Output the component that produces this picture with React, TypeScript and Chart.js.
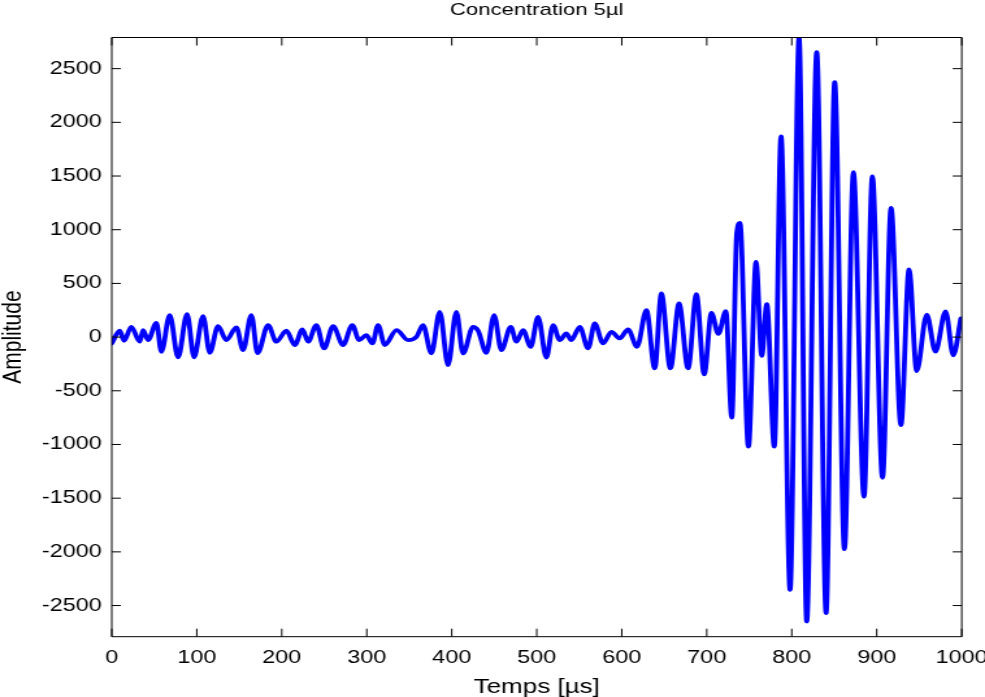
import React, { useEffect, useRef } from "react";
import { Chart, registerables } from "chart.js";

Chart.register(...registerables);

const titleText = "Concentration 5µl";
const xLabel = "Temps [µs]";
const yLabel = "Amplitude";

// time of each sample point (µs)
const timeUs = [
  0, 9.4, 14.5, 23, 32.9, 36.8, 42.7, 52.5, 58.4, 68.2, 78, 88.6, 96.8, 107.4, 115.3, 125,
  134.8, 146.6, 154.5, 164.2, 171.5, 183.9, 193.6, 205.4, 215.3, 224.3, 231, 240.7, 249.8,
  260.4, 272.1, 283, 291, 299.5, 306.6, 313.3, 321.2, 335, 348.6, 358.4, 366.2, 376, 385.9,
  395.6, 405.4, 413.3, 425, 431, 440.7, 449.8, 458.4, 469.4, 476, 483.9, 492.9, 501.5, 511.3,
  519.2, 527, 534.8, 540.7, 550.6, 560.4, 568.2, 578, 587.8, 597.6, 607.4, 618, 629, 638.8,
  646.6, 657.2, 667.4, 678, 687.8, 697, 705.5, 713.6, 722.5, 729.4, 735.3, 739, 749, 758,
  764.7, 770.6, 779.5, 787.4, 798, 808.6, 817.6, 829.4, 840.4, 850.5, 862, 872.5, 885, 894.8,
  906.8, 916.8, 928.4, 938, 947, 958.8, 969, 981, 990, 999,
];

// amplitude at each sample point
const amplitude = [
  -59, 59, -34, 96, -43, 65, -28, 133, -137, 205, -189, 214, -189, 195, -146, 102,
  -28, 90, -121, 205, -150, 112, -43, 59, -74, 71, -43, 112, -105,
  102, -74, 112, -28, 19, -59, 112, -74, 65, -28, 3, 112, -152, 235,
  -260, 235, -152, 96, 60, -146, 205, -121, 96, -43, 65, -90, 189, -190,
  112, -28, 34, -28, 96, -105, 127, -59, 49, -12, 71, -90, 251, -291,
  406, -291, 313, -291, 400, -347, 226, 30, 242, -750, 965, 1063, -1020, 700,
  -174, 307, -1020, 1870, -2353, 2788, -2648, 2654, -2570, 2375, -1975, 1535, -1486, 1497,
  -1310, 1203, -819, 630, -317, 210, -135, 240, -170, 175,
];

const xTicks = [0, 100, 200, 300, 400, 500, 600, 700, 800, 900, 1000];
const yTicks = [-2500, -2000, -1500, -1000, -500, 0, 500, 1000, 1500, 2000, 2500];
const xRange = [0, 1000];
const yRange = [-2790, 2790];

const OUT_W = 985;
const OUT_H = 697;
const IN_W = 758; // drawn narrower then stretched horizontally, like the reference
const FONT = '"Liberation Sans", Arial, Helvetica, sans-serif';

export default function App() {
  const ref = useRef<HTMLCanvasElement>(null);

  useEffect(() => {
    const canvas = ref.current;
    if (!canvas) return;

    const framePlugin = {
      id: "matlabFrame",
      afterDraw(chart: any) {
        const { ctx, chartArea: a, scales } = chart;
        const xs = scales.x;
        const ys = scales.y;
        ctx.save();
        ctx.strokeStyle = "#000";
        ctx.lineWidth = 1;
        ctx.beginPath();
        ctx.rect(a.left, a.top, a.right - a.left, a.bottom - a.top);
        ctx.stroke();
        ctx.beginPath();
        xs.ticks.forEach((t: any) => {
          const px = xs.getPixelForValue(t.value);
          ctx.moveTo(px, a.bottom);
          ctx.lineTo(px, a.bottom - 8);
          ctx.moveTo(px, a.top);
          ctx.lineTo(px, a.top + 8);
        });
        ys.ticks.forEach((t: any) => {
          const py = ys.getPixelForValue(t.value);
          ctx.moveTo(a.left, py);
          ctx.lineTo(a.left + 7, py);
          ctx.moveTo(a.right, py);
          ctx.lineTo(a.right - 7, py);
        });
        ctx.stroke();
        ctx.restore();
      },
    };

    const chart = new Chart(canvas, {
      type: "line",
      data: {
        datasets: [
          {
            data: timeUs.map((t, i) => ({ x: t, y: amplitude[i] })),
            borderColor: "#0000ff",
            backgroundColor: "#0000ff",
            borderWidth: 3.8,
            pointRadius: 0,
            cubicInterpolationMode: "monotone",
            borderJoinStyle: "round",
            borderCapStyle: "round",
            fill: false,
          },
        ],
      },
      options: {
        responsive: false,
        animation: false,
        devicePixelRatio: 1,
        events: [],
        layout: {
          padding: { left: 0, right: 17.9, top: 0, bottom: 0 },
          autoPadding: false,
        },
        plugins: {
          legend: { display: false },
          tooltip: { enabled: false },
          title: {
            display: true,
            text: titleText,
            fullSize: false,
            color: "#000",
            font: { family: FONT, size: 17, weight: "normal", lineHeight: 1.2 },
            padding: { top: 0, bottom: 17.1 },
          },
        },
        scales: {
          x: {
            type: "linear",
            min: xRange[0],
            max: xRange[1],
            afterBuildTicks: (s: any) => {
              s.ticks = xTicks.map((v) => ({ value: v }));
            },
            afterFit: (s: any) => {
              s.height = 60.3;
              s.paddingLeft = 0;
              s.paddingRight = 0;
            },
            grid: { display: false, drawTicks: false },
            border: { display: false },
            ticks: {
              color: "#000",
              font: { family: FONT, size: 18 },
              padding: 11,
              maxRotation: 0,
              autoSkip: false,
              callback: (v: any) => String(v),
            },
            title: {
              display: true,
              text: xLabel,
              color: "#000",
              font: { family: FONT, size: 20, lineHeight: 1 },
              padding: { top: 0, bottom: 0 },
            },
          },
          y: {
            type: "linear",
            min: yRange[0],
            max: yRange[1],
            afterBuildTicks: (s: any) => {
              s.ticks = yTicks.map((v) => ({ value: v }));
            },
            afterFit: (s: any) => {
              s.width = 86;
              s.paddingTop = 0;
              s.paddingBottom = 0;
            },
            grid: { display: false, drawTicks: false },
            border: { display: false },
            ticks: {
              color: "#000",
              font: { family: FONT, size: 18 },
              padding: 7.7,
              autoSkip: false,
              callback: (v: any) => String(v),
            },
            title: {
              display: true,
              text: yLabel,
              color: "#000",
              font: { family: FONT, size: 21, lineHeight: 1 },
              padding: { top: 0, bottom: 0 },
            },
          },
        },
      },
      plugins: [framePlugin],
    } as any);

    canvas.style.width = OUT_W + "px";
    canvas.style.height = OUT_H + "px";

    return () => chart.destroy();
  }, []);

  return (
    <div
      style={{
        position: "absolute",
        left: 0,
        top: 0,
        width: OUT_W,
        height: OUT_H,
        overflow: "hidden",
        background: "#fff",
      }}
    >
      <canvas
        ref={ref}
        width={IN_W}
        height={OUT_H}
        style={{ width: OUT_W, height: OUT_H, display: "block" }}
      />
    </div>
  );
}
